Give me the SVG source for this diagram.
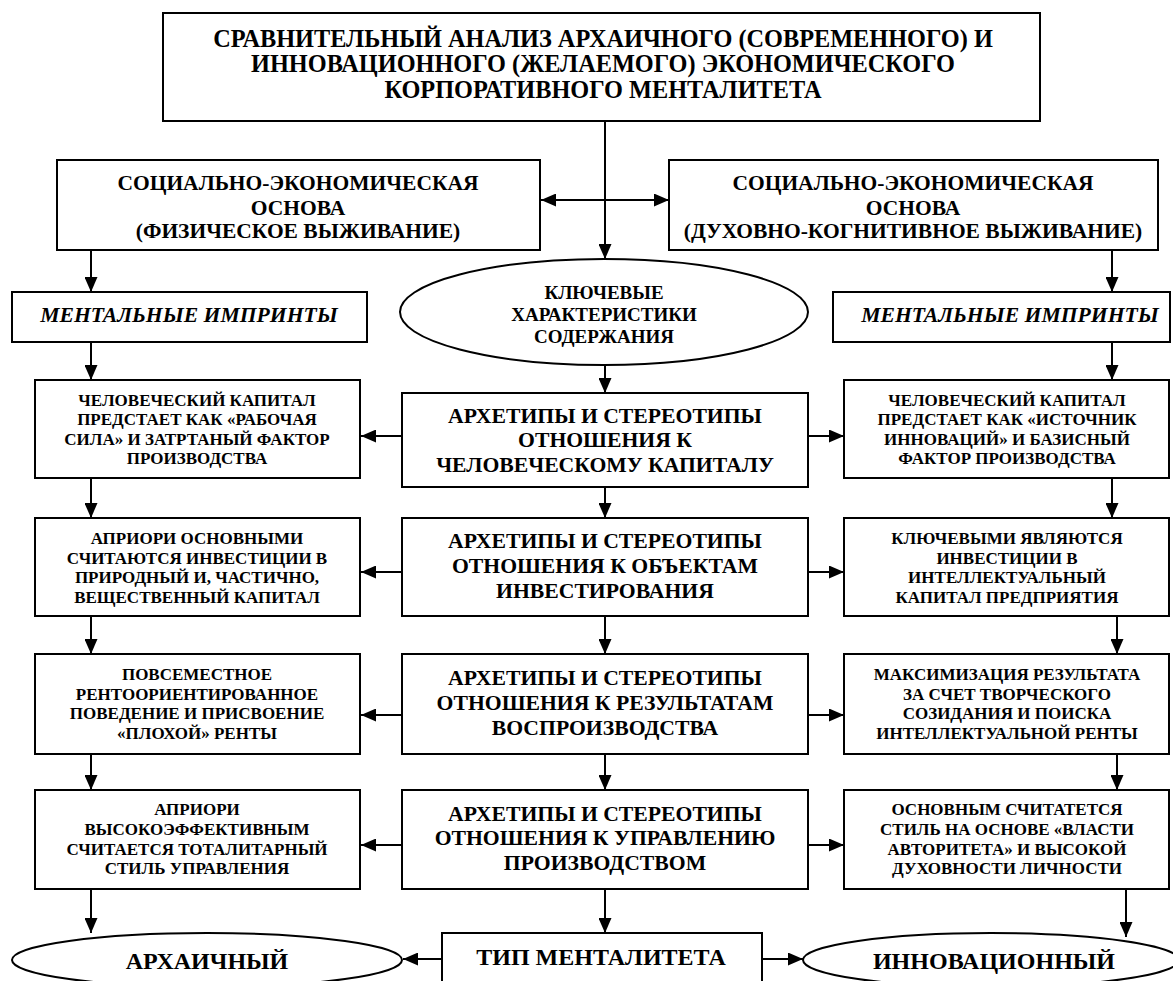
<svg xmlns="http://www.w3.org/2000/svg" width="1173" height="981" viewBox="0 0 1173 981">
<defs>
<marker id="ah" markerUnits="userSpaceOnUse" markerWidth="15" markerHeight="13" refX="15" refY="6.5" orient="auto">
<path d="M0,0 L15,6.5 L0,13 z" fill="#000"/>
</marker>
<style>
rect, ellipse { fill: #fff; stroke: #000; stroke-width: 2; }
text { font-family: "Liberation Serif", "Times New Roman", serif; font-weight: bold; text-anchor: middle; fill: #000; }
.t { font-size: 24.3px; }
.s { font-size: 21.5px; }
.m { font-size: 21.7px; font-style: italic; }
.e { font-size: 19px; }
.c { font-size: 21.7px; }
.b { font-size: 17px; }
.f { font-size: 24px; }
.con line { stroke: #000; stroke-width: 2; marker-end: url(#ah); }
</style>
</defs>

<g class="con">
<line x1="605" y1="121" x2="605" y2="259"/>
<line x1="605" y1="200" x2="541" y2="200"/>
<line x1="605" y1="200" x2="669" y2="200"/>
<line x1="91" y1="250" x2="91" y2="292"/>
<line x1="1112" y1="250" x2="1112" y2="292"/>
<line x1="91" y1="342" x2="91" y2="380"/>
<line x1="1112" y1="342" x2="1112" y2="380"/>
<line x1="605" y1="365" x2="605" y2="393"/>
<line x1="402" y1="436" x2="361" y2="436"/>
<line x1="808" y1="436" x2="844" y2="436"/>
<line x1="91" y1="478" x2="91" y2="518"/>
<line x1="605" y1="487" x2="605" y2="518"/>
<line x1="1112" y1="478" x2="1112" y2="518"/>
<line x1="402" y1="572" x2="361" y2="572"/>
<line x1="808" y1="572" x2="844" y2="572"/>
<line x1="91" y1="616" x2="91" y2="654"/>
<line x1="605" y1="616" x2="605" y2="654"/>
<line x1="1117" y1="616" x2="1117" y2="654"/>
<line x1="402" y1="715" x2="361" y2="715"/>
<line x1="808" y1="715" x2="844" y2="715"/>
<line x1="91" y1="754" x2="91" y2="790"/>
<line x1="605" y1="754" x2="605" y2="790"/>
<line x1="1117" y1="754" x2="1117" y2="790"/>
<line x1="402" y1="845" x2="361" y2="845"/>
<line x1="808" y1="845" x2="844" y2="845"/>
<line x1="91" y1="889" x2="91" y2="933"/>
<line x1="605" y1="889" x2="605" y2="933"/>
<line x1="1126" y1="889" x2="1126" y2="937"/>
<line x1="442" y1="959" x2="403" y2="959"/>
<line x1="762" y1="959" x2="803" y2="959"/>
</g>

<g id="title">
<rect x="163" y="13" width="877" height="108"/>
<text class="t" x="603" y="47">СРАВНИТЕЛЬНЫЙ АНАЛИЗ АРХАИЧНОГО (СОВРЕМЕННОГО) И</text>
<text class="t" x="603" y="72">ИННОВАЦИОННОГО (ЖЕЛАЕМОГО) ЭКОНОМИЧЕСКОГО</text>
<text class="t" x="603" y="98">КОРПОРАТИВНОГО МЕНТАЛИТЕТА</text>
</g>

<g id="socio-left">
<rect x="57" y="160" width="483" height="90"/>
<text class="s" x="298" y="190">СОЦИАЛЬНО-ЭКОНОМИЧЕСКАЯ</text>
<text class="s" x="298" y="215">ОСНОВА</text>
<text class="s" x="298" y="238">(ФИЗИЧЕСКОЕ ВЫЖИВАНИЕ)</text>
</g>

<g id="socio-right">
<rect x="669" y="160" width="489" height="90"/>
<text class="s" x="913" y="190">СОЦИАЛЬНО-ЭКОНОМИЧЕСКАЯ</text>
<text class="s" x="913" y="215">ОСНОВА</text>
<text class="s" x="913" y="238">(ДУХОВНО-КОГНИТИВНОЕ ВЫЖИВАНИЕ)</text>
</g>

<g id="imprint-left">
<rect x="12" y="292" width="355" height="50"/>
<text class="m" x="189" y="322">МЕНТАЛЬНЫЕ ИМПРИНТЫ</text>
</g>

<g id="imprint-right">
<rect x="833" y="292" width="337" height="50"/>
<text class="m" x="1010" y="322">МЕНТАЛЬНЫЕ ИМПРИНТЫ</text>
</g>

<g id="key">
<ellipse cx="604" cy="312" rx="204" ry="53"/>
<text class="e" x="604" y="299">КЛЮЧЕВЫЕ</text>
<text class="e" x="604" y="321">ХАРАКТЕРИСТИКИ</text>
<text class="e" x="604" y="343">СОДЕРЖАНИЯ</text>
</g>

<g id="left1">
<rect x="35" y="380" width="325" height="98"/>
<text class="b" x="197" y="406">ЧЕЛОВЕЧЕСКИЙ КАПИТАЛ</text>
<text class="b" x="197" y="425">ПРЕДСТАЕТ КАК «РАБОЧАЯ</text>
<text class="b" x="197" y="444.5">СИЛА» И ЗАТРТАНЫЙ ФАКТОР</text>
<text class="b" x="197" y="464">ПРОИЗВОДСТВА</text>
</g>

<g id="center1">
<rect x="402" y="393" width="406" height="94"/>
<text class="c" x="605" y="423">АРХЕТИПЫ И СТЕРЕОТИПЫ</text>
<text class="c" x="605" y="447">ОТНОШЕНИЯ К</text>
<text class="c" x="605" y="472">ЧЕЛОВЕЧЕСКОМУ КАПИТАЛУ</text>
</g>

<g id="right1">
<rect x="844" y="380" width="325" height="98"/>
<text class="b" x="1007" y="406">ЧЕЛОВЕЧЕСКИЙ КАПИТАЛ</text>
<text class="b" x="1007" y="425">ПРЕДСТАЕТ КАК «ИСТОЧНИК</text>
<text class="b" x="1007" y="444.5">ИННОВАЦИЙ» И БАЗИСНЫЙ</text>
<text class="b" x="1007" y="464">ФАКТОР ПРОИЗВОДСТВА</text>
</g>

<g id="left2">
<rect x="35" y="518" width="325" height="98"/>
<text class="b" x="197" y="544">АПРИОРИ ОСНОВНЫМИ</text>
<text class="b" x="197" y="563.5">СЧИТАЮТСЯ ИНВЕСТИЦИИ В</text>
<text class="b" x="197" y="583">ПРИРОДНЫЙ И, ЧАСТИЧНО,</text>
<text class="b" x="197" y="602.5">ВЕЩЕСТВЕННЫЙ КАПИТАЛ</text>
</g>

<g id="center2">
<rect x="402" y="518" width="406" height="98"/>
<text class="c" x="605" y="548">АРХЕТИПЫ И СТЕРЕОТИПЫ</text>
<text class="c" x="605" y="573">ОТНОШЕНИЯ К ОБЪЕКТАМ</text>
<text class="c" x="605" y="598">ИНВЕСТИРОВАНИЯ</text>
</g>

<g id="right2">
<rect x="844" y="518" width="325" height="98"/>
<text class="b" x="1007" y="544">КЛЮЧЕВЫМИ ЯВЛЯЮТСЯ</text>
<text class="b" x="1007" y="563.5">ИНВЕСТИЦИИ В</text>
<text class="b" x="1007" y="583">ИНТЕЛЛЕКТУАЛЬНЫЙ</text>
<text class="b" x="1007" y="602.5">КАПИТАЛ ПРЕДПРИЯТИЯ</text>
</g>

<g id="left3">
<rect x="35" y="654" width="325" height="100"/>
<text class="b" x="197" y="680">ПОВСЕМЕСТНОЕ</text>
<text class="b" x="197" y="699.5">РЕНТООРИЕНТИРОВАННОЕ</text>
<text class="b" x="197" y="719">ПОВЕДЕНИЕ И ПРИСВОЕНИЕ</text>
<text class="b" x="197" y="738.5">«ПЛОХОЙ» РЕНТЫ</text>
</g>

<g id="center3">
<rect x="402" y="654" width="406" height="100"/>
<text class="c" x="605" y="685">АРХЕТИПЫ И СТЕРЕОТИПЫ</text>
<text class="c" x="605" y="710">ОТНОШЕНИЯ К РЕЗУЛЬТАТАМ</text>
<text class="c" x="605" y="735">ВОСПРОИЗВОДСТВА</text>
</g>

<g id="right3">
<rect x="844" y="654" width="325" height="100"/>
<text class="b" x="1007" y="680">МАКСИМИЗАЦИЯ РЕЗУЛЬТАТА</text>
<text class="b" x="1007" y="699.5">ЗА СЧЕТ ТВОРЧЕСКОГО</text>
<text class="b" x="1007" y="719">СОЗИДАНИЯ И ПОИСКА</text>
<text class="b" x="1007" y="738.5">ИНТЕЛЛЕКТУАЛЬНОЙ РЕНТЫ</text>
</g>

<g id="left4">
<rect x="35" y="790" width="325" height="99"/>
<text class="b" x="197" y="815">АПРИОРИ</text>
<text class="b" x="197" y="835">ВЫСОКОЭФФЕКТИВНЫМ</text>
<text class="b" x="197" y="854.5">СЧИТАЕТСЯ ТОТАЛИТАРНЫЙ</text>
<text class="b" x="197" y="874">СТИЛЬ УПРАВЛЕНИЯ</text>
</g>

<g id="center4">
<rect x="402" y="790" width="406" height="99"/>
<text class="c" x="605" y="821">АРХЕТИПЫ И СТЕРЕОТИПЫ</text>
<text class="c" x="605" y="845">ОТНОШЕНИЯ К УПРАВЛЕНИЮ</text>
<text class="c" x="605" y="870">ПРОИЗВОДСТВОМ</text>
</g>

<g id="right4">
<rect x="844" y="790" width="325" height="99"/>
<text class="b" x="1007" y="815">ОСНОВНЫМ СЧИТАТЕТСЯ</text>
<text class="b" x="1007" y="835">СТИЛЬ НА ОСНОВЕ «ВЛАСТИ</text>
<text class="b" x="1007" y="854.5">АВТОРИТЕТА» И ВЫСОКОЙ</text>
<text class="b" x="1007" y="874">ДУХОВНОСТИ ЛИЧНОСТИ</text>
</g>

<g id="archaic">
<ellipse cx="207" cy="960" rx="195" ry="27"/>
<text class="f" x="207" y="969">АРХАИЧНЫЙ</text>
</g>

<g id="type">
<rect x="442" y="933" width="320" height="60"/>
<text class="f" x="601" y="965">ТИП МЕНТАЛИТЕТА</text>
</g>

<g id="innov">
<ellipse cx="991" cy="960" rx="188" ry="27"/>
<text class="f" x="994" y="969">ИННОВАЦИОННЫЙ</text>
</g>
</svg>
